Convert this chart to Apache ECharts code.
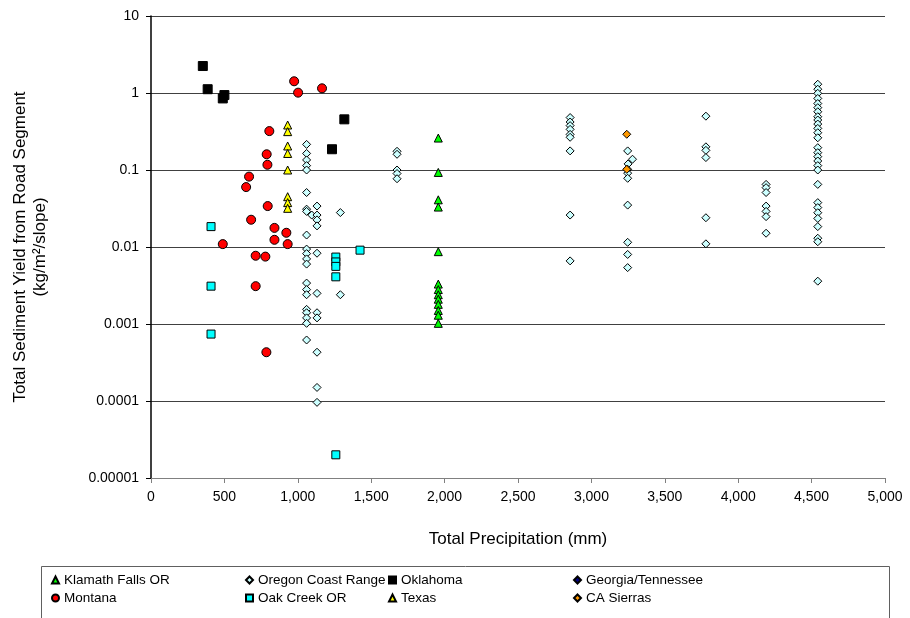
<!DOCTYPE html>
<html>
<head>
<meta charset="utf-8">
<script src="https://cdn.jsdelivr.net/npm/echarts@6/dist/echarts.min.js"></script>
<style>html,body{margin:0;padding:0;background:#fff;}#c{width:910px;height:618px;}</style>
</head>
<body>
<div id="c"></div>
<script>
// ---- data ----
const seriesNames = ['Klamath Falls OR','Oregon Coast Range','Oklahoma','Georgia/Tennessee','Montana','Oak Creek OR','Texas','CA Sierras'];
const xTickValues = [0,500,1000,1500,2000,2500,3000,3500,4000,4500,5000];
const yTickLabels = ['0.00001','0.0001','0.001','0.01','0.1','1','10'];

const klamathFalls = [
  [1957,0.26],[1957,0.093],[1957,0.041],[1957,0.033],[1957,0.0087],[1957,0.0033],[1957,0.0028],
  [1957,0.0024],[1957,0.0021],[1957,0.0018],[1957,0.0015],[1957,0.0013],[1957,0.00102]
];
const oregonCoastRange = [
  [1060,0.215],[1060,0.164],[1060,0.135],[1060,0.114],[1060,0.1],[1060,0.051],[1060,0.031],[1060,0.029],
  [1060,0.0143],[1060,0.0094],[1060,0.0082],[1060,0.0070],[1060,0.0060],[1060,0.0034],[1060,0.0028],
  [1060,0.0024],[1060,0.00155],[1060,0.0014],[1060,0.0012],[1060,0.00102],[1060,0.00062],
  [1095,0.026],
  [1131,0.034],[1131,0.026],[1131,0.0225],[1131,0.0188],[1131,0.0083],[1131,0.0025],[1131,0.0014],
  [1131,0.0012],[1131,0.00043],[1131,0.00015],[1131,0.000096],
  [1290,0.028],[1290,0.0024],
  [1676,0.175],[1676,0.16],[1676,0.1],[1676,0.09],[1676,0.077],
  [2855,0.48],[2855,0.42],[2855,0.377],[2855,0.337],[2855,0.29],[2855,0.266],[2855,0.177],[2855,0.026],[2855,0.0066],
  [3247,0.177],[3280,0.138],[3250,0.12],[3247,0.102],[3247,0.091],[3247,0.078],[3247,0.035],[3247,0.0115],[3247,0.008],[3247,0.0054],
  [3780,0.50],[3780,0.2],[3780,0.18],[3780,0.145],[3780,0.024],[3780,0.011],
  [4190,0.065],[4190,0.059],[4190,0.051],[4190,0.034],[4190,0.029],[4190,0.0248],[4190,0.0151],
  [4542,1.30],[4542,1.12],[4542,0.99],[4542,0.85],[4542,0.73],[4542,0.645],[4542,0.571],[4542,0.492],
  [4542,0.446],[4542,0.395],[4542,0.347],[4542,0.305],[4542,0.262],[4542,0.195],[4542,0.168],[4542,0.149],
  [4542,0.131],[4542,0.114],[4542,0.1],[4542,0.065],[4542,0.0377],[4542,0.0325],[4542,0.0279],[4542,0.0235],
  [4542,0.0184],[4542,0.013],[4542,0.0117],[4542,0.0036]
];
const oklahoma = [[353,2.24],[386,1.12],[489,0.85],[500,0.94],[1233,0.186],[1317,0.455]];
const georgiaTennessee = [];
const montana = [
  [975,1.42],[1002,1.01],[1165,1.15],[806,0.32],[788,0.16],[793,0.117],[668,0.082],[648,0.060],
  [795,0.034],[682,0.0226],[841,0.0177],[922,0.0153],[841,0.0124],[931,0.0109],[489,0.0109],
  [713,0.0077],[779,0.0075],[713,0.0031],[786,0.00043]
];
const oakCreek = [
  [409,0.0184],[409,0.0031],[409,0.00074],
  [1259,0.0074],[1259,0.0064],[1259,0.0056],[1259,0.0041],[1259,0.00002],[1424,0.0091]
];
const texas = [[931,0.384],[931,0.315],[931,0.205],[931,0.164],[931,0.1],[931,0.045],[931,0.0377],[931,0.0318]];
const caSierras = [[3241,0.291],[3241,0.102]];

// ---- styles ----
const seriesData = [klamathFalls, oregonCoastRange, oklahoma, georgiaTennessee, montana, oakCreek, texas, caSierras];
const symbols = ['triangle','diamond','rect','diamond','circle','rect','triangle','diamond'];
const colors = ['#00ff00','#ccffff','#000000','#000080','#ff0000','#00ffff','#ffff00','#ff9900'];
const sizes = [8,8,9,8,9,8,8,8];
const FONT = 'Liberation Sans, Arial, sans-serif';

const series = seriesNames.map((n,i)=>({
  name:n, type:'scatter', data:seriesData[i], symbol:symbols[i], symbolSize:sizes[i],
  itemStyle:{color:colors[i], borderColor:'#000', borderWidth:1, opacity:1},
  emphasis:{disabled:true}, z:2+i
}));

const legendPos = [[51,573],[245,573],[388,573],[573,573],[51,591],[245,591],[388,591],[573,591]];
const legends = seriesNames.map((n,i)=>({
  data:[n], left:legendPos[i][0], top:legendPos[i][1], padding:0,
  itemWidth:7, itemHeight:7, itemGap:0,
  textStyle:{fontFamily:FONT, fontSize:13.5, color:'#000', padding:[0,0,0,0]},
  selectedMode:false
}));

const chart = echarts.init(document.getElementById('c'), null, {renderer:'canvas'});
chart.setOption({
  animation:false,
  backgroundColor:'#fff',
  grid:{left:151, right:25, top:16, bottom:140, containLabel:false},
  xAxis:{
    type:'value', min:0, max:5000, interval:500,
    axisLine:{show:true, lineStyle:{color:'#808080', width:1}},
    axisTick:{show:true, length:5, lineStyle:{color:'#808080'}},
    axisLabel:{fontFamily:FONT, fontSize:14, color:'#000', margin:12,
      formatter:v=>xTickValues.indexOf(v)>=0 ? v.toLocaleString('en-US') : ''},
    splitLine:{show:false},
    name:'Total Precipitation (mm)', nameLocation:'middle', nameGap:53,
    nameTextStyle:{fontFamily:FONT, fontSize:17, color:'#000'}
  },
  yAxis:{
    type:'log', logBase:10, min:0.00001, max:10,
    axisLine:{show:true, lineStyle:{color:'#000', width:1.5}},
    axisTick:{show:true, length:5, lineStyle:{color:'#000'}},
    axisLabel:{fontFamily:FONT, fontSize:14, color:'#000', margin:12,
      formatter:v=>yTickLabels[Math.round(Math.log10(v))+5]},
    splitLine:{show:true, lineStyle:{color:'#404040', width:1}},
    minorTick:{show:false}
  },
  legend:legends,
  graphic:[
    {type:'rect', shape:{x:41.5, y:566.5, width:848, height:52}, style:{fill:'none', stroke:'#606060', lineWidth:1}, z:0, silent:true},
    {type:'text', x:20, y:247, rotation:Math.PI/2, style:{text:'Total Sediment Yield from Road Segment', fontFamily:FONT, fontSize:17, fill:'#000', align:'center', verticalAlign:'middle'}},
    {type:'text', x:40, y:247, rotation:Math.PI/2, style:{text:'(kg/m²/slope)', fontFamily:FONT, fontSize:17, fill:'#000', align:'center', verticalAlign:'middle'}}
  ],
  series:series
});
</script>
</body>
</html>
